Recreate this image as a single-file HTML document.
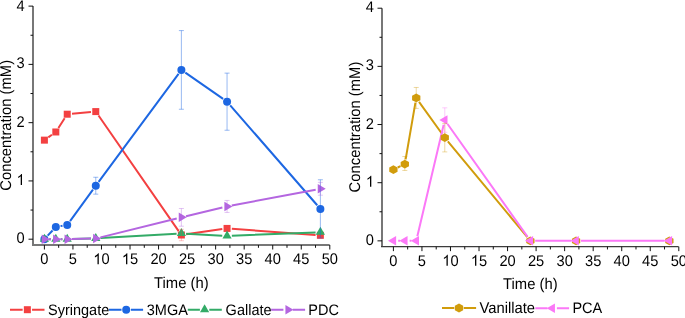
<!DOCTYPE html>
<html><head><meta charset="utf-8"><style>
html,body{margin:0;padding:0;background:#fff;width:685px;height:318px;overflow:hidden}
svg{display:block} text{text-rendering:geometricPrecision}
</style></head><body>
<svg width="685" height="318" viewBox="0 0 685 318" font-family='"Liberation Sans", sans-serif' fill="#000">
<rect width="685" height="318" fill="#fff"/>
<path d="M33 6.1V245H329.7" fill="none" stroke="#777777" stroke-width="2"/>
<path d="M28.5 239.2H33M30.5 210.06H33M28.5 180.93H33M30.5 151.79H33M28.5 122.66H33M30.5 93.52H33M28.5 64.39H33M30.5 35.25H33M28.5 6.12H33M44.4 245V249.5M58.67 245V247.8M72.94 245V249.5M87.21 245V247.8M101.48 245V249.5M115.75 245V247.8M130.02 245V249.5M144.29 245V247.8M158.56 245V249.5M172.83 245V247.8M187.1 245V249.5M201.37 245V247.8M215.64 245V249.5M229.91 245V247.8M244.18 245V249.5M258.45 245V247.8M272.72 245V249.5M286.99 245V247.8M301.26 245V249.5M315.53 245V247.8M329.8 245V249.5" stroke="#111" stroke-width="1" fill="none"/>
<path transform="translate(16.54 184.93) scale(0.007163 -0.007521)" d="M763 0H583V1147Q430 1003 223 917V1091Q390 1160 530 1290Q640 1390 676 1466H763Z" fill="#000"/>
<path transform="translate(93.32 264.3) scale(0.007163 -0.007521)" d="M763 0H583V1147Q430 1003 223 917V1091Q390 1160 530 1290Q640 1390 676 1466H763Z" fill="#000"/>
<path transform="translate(121.86 264.3) scale(0.007163 -0.007521)" d="M763 0H583V1147Q430 1003 223 917V1091Q390 1160 530 1290Q640 1390 676 1466H763Z" fill="#000"/>
<path d="M48.31 137.35L51.91 134.77M58.41 127.94L64.64 118.25M72.01 113.77L90.99 112.03M98.51 115.53L178.66 231.06M186.14 234.32L222.31 229.11M231.84 228.77L315.59 234.94" stroke="#f34041" stroke-width="2" fill="none"/>
<path d="M47.67 235.69L52.54 230.47M60.54 226.12L62.51 225.77M70.06 221.04L92.95 189.59M98.63 181.85L178.54 73.79M185.33 72.67L223.12 98.94M230.21 105.3L317.23 205.28" stroke="#1d67e2" stroke-width="2" fill="none"/>
<path d="M49.2 239.2L51.02 239.2M60.62 239.2L62.43 239.2M72.03 239.03L90.97 238.38M100.56 237.94L176.6 233.64M186.18 233.64L222.26 235.67M231.85 235.75L315.59 232.4" stroke="#33ab67" stroke-width="2" fill="none"/>
<path d="M49.2 239.2L51.02 239.2M60.62 239.2L62.43 239.2M72.03 239.08L90.97 238.62M100.43 237.35L176.73 218.5M186.06 216.23L222.39 207.57M231.77 205.56L315.67 189.69" stroke="#b466e0" stroke-width="2" fill="none"/>
<rect x="40.9" y="136.64" width="7" height="7" fill="#f34041"/>
<rect x="52.32" y="128.48" width="7" height="7" fill="#f34041"/>
<rect x="63.73" y="110.71" width="7" height="7" fill="#f34041"/>
<rect x="92.27" y="108.09" width="7" height="7" fill="#f34041"/>
<rect x="177.89" y="231.5" width="7" height="7" fill="#f34041"/>
<rect x="223.56" y="224.92" width="7" height="7" fill="#f34041"/>
<rect x="316.88" y="231.8" width="7" height="7" fill="#f34041"/>
<circle cx="44.4" cy="239.2" r="4" fill="#1d67e2"/>
<circle cx="55.82" cy="226.96" r="4" fill="#1d67e2"/>
<circle cx="67.23" cy="224.92" r="4" fill="#1d67e2"/>
<circle cx="95.77" cy="185.71" r="4" fill="#1d67e2"/>
<circle cx="181.39" cy="69.93" r="4" fill="#1d67e2"/>
<circle cx="227.06" cy="101.68" r="4" fill="#1d67e2"/>
<circle cx="320.38" cy="208.9" r="4" fill="#1d67e2"/>
<path d="M44.4 233.87L49 241.87L39.8 241.87Z" fill="#33ab67"/>
<path d="M55.82 233.87L60.42 241.87L51.22 241.87Z" fill="#33ab67"/>
<path d="M67.23 233.87L71.83 241.87L62.63 241.87Z" fill="#33ab67"/>
<path d="M95.77 232.88L100.37 240.88L91.17 240.88Z" fill="#33ab67"/>
<path d="M181.39 228.04L185.99 236.04L176.79 236.04Z" fill="#33ab67"/>
<path d="M227.06 230.6L231.66 238.6L222.46 238.6Z" fill="#33ab67"/>
<path d="M320.38 226.87L324.98 234.87L315.78 234.87Z" fill="#33ab67"/>
<path d="M49.73 239.2L41.73 234.45L41.73 243.95Z" fill="#b466e0"/>
<path d="M61.15 239.2L53.15 234.45L53.15 243.95Z" fill="#b466e0"/>
<path d="M72.57 239.2L64.57 234.45L64.57 243.95Z" fill="#b466e0"/>
<path d="M101.11 238.5L93.11 233.75L93.11 243.25Z" fill="#b466e0"/>
<path d="M186.73 217.35L178.73 212.6L178.73 222.1Z" fill="#b466e0"/>
<path d="M232.39 206.45L224.39 201.7L224.39 211.2Z" fill="#b466e0"/>
<path d="M325.72 188.8L317.72 184.05L317.72 193.55Z" fill="#b466e0"/>
<path d="M181.39 229.29V240.72M178.89 229.29H183.89M178.89 240.72H183.89" stroke="#f34041" stroke-opacity="0.3" stroke-width="1" fill="none"/>
<path d="M95.77 177.26V194.16M93.27 177.26H98.27M93.27 194.16H98.27" stroke="#1d67e2" stroke-opacity="0.45" stroke-width="1" fill="none"/>
<path d="M181.39 30.59V109.26M178.89 30.59H183.89M178.89 109.26H183.89" stroke="#1d67e2" stroke-opacity="0.45" stroke-width="1" fill="none"/>
<path d="M227.06 73.13V130.24M224.56 73.13H229.56M224.56 130.24H229.56" stroke="#1d67e2" stroke-opacity="0.45" stroke-width="1" fill="none"/>
<path d="M320.38 179.76V238.03M317.88 179.76H322.88M317.88 238.03H322.88" stroke="#1d67e2" stroke-opacity="0.45" stroke-width="1" fill="none"/>
<path d="M181.39 208.49V226.21M178.89 208.49H183.89M178.89 226.21H183.89" stroke="#b466e0" stroke-opacity="0.38" stroke-width="1" fill="none"/>
<path d="M227.06 200.45V212.45M224.56 200.45H229.56M224.56 212.45H229.56" stroke="#b466e0" stroke-opacity="0.38" stroke-width="1" fill="none"/>
<path d="M320.38 182.39V195.21M317.88 182.39H322.88M317.88 195.21H322.88" stroke="#b466e0" stroke-opacity="0.38" stroke-width="1" fill="none"/>
<path d="M382 8.2V246.65" fill="none" stroke="#777777" stroke-width="2"/>
<path d="M381 246.65H678.6" fill="none" stroke="#3c3c3c" stroke-width="1.3"/>
<path d="M377.5 240.85H382M379.5 211.77H382M377.5 182.69H382M379.5 153.61H382M377.5 124.53H382M379.5 95.45H382M377.5 66.37H382M379.5 37.29H382M377.5 8.21H382M393.4 246.65V251.15M407.67 246.65V249.45M421.94 246.65V251.15M436.21 246.65V249.45M450.48 246.65V251.15M464.75 246.65V249.45M479.02 246.65V251.15M493.29 246.65V249.45M507.56 246.65V251.15M521.83 246.65V249.45M536.1 246.65V251.15M550.37 246.65V249.45M564.64 246.65V251.15M578.91 246.65V249.45M593.18 246.65V251.15M607.45 246.65V249.45M621.72 246.65V251.15M635.99 246.65V249.45M650.26 246.65V251.15M664.53 246.65V249.45M678.8 246.65V251.15" stroke="#111" stroke-width="1" fill="none"/>
<path transform="translate(365.84 186.69) scale(0.007163 -0.007521)" d="M763 0H583V1147Q430 1003 223 917V1091Q390 1160 530 1290Q640 1390 676 1466H763Z" fill="#000"/>
<path transform="translate(442.32 265.85) scale(0.007163 -0.007521)" d="M763 0H583V1147Q430 1003 223 917V1091Q390 1160 530 1290Q640 1390 676 1466H763Z" fill="#000"/>
<path transform="translate(470.86 265.85) scale(0.007163 -0.007521)" d="M763 0H583V1147Q430 1003 223 917V1091Q390 1160 530 1290Q640 1390 676 1466H763Z" fill="#000"/>
<path d="M397.72 167.51L400.5 166.17M405.63 159.35L415.42 102.68M419.03 101.85L441.97 133.78M447.84 141.37L527.33 237.16" stroke="#d19c0c" stroke-width="2" fill="none"/>
<path d="M398.2 240.85L400.02 240.85M409.62 240.85L411.43 240.85M417.34 236.18L443.67 124.72M447.55 123.97L527.62 236.93M535.19 240.85L571.26 240.85M580.86 240.85L664.58 240.85" stroke="#fb78f7" stroke-width="2" fill="none"/>
<path d="M393.4 165.2L397.55 167.4L397.55 171.8L393.4 174L389.25 171.8L389.25 167.4Z" fill="#d19c0c"/>
<path d="M404.82 159.68L408.97 161.88L408.97 166.28L404.82 168.48L400.67 166.28L400.67 161.88Z" fill="#d19c0c"/>
<path d="M416.23 93.55L420.38 95.75L420.38 100.15L416.23 102.35L412.08 100.15L412.08 95.75Z" fill="#d19c0c"/>
<path d="M444.77 133.27L448.92 135.47L448.92 139.87L444.77 142.07L440.62 139.87L440.62 135.47Z" fill="#d19c0c"/>
<path d="M530.39 236.45L534.54 238.65L534.54 243.05L530.39 245.25L526.24 243.05L526.24 238.65Z" fill="#d19c0c"/>
<path d="M576.06 236.45L580.21 238.65L580.21 243.05L576.06 245.25L571.91 243.05L571.91 238.65Z" fill="#d19c0c"/>
<path d="M669.38 236.45L673.53 238.65L673.53 243.05L669.38 245.25L665.23 243.05L665.23 238.65Z" fill="#d19c0c"/>
<path d="M387.93 240.85L396.13 236.1L396.13 245.6Z" fill="#fb78f7"/>
<path d="M399.35 240.85L407.55 236.1L407.55 245.6Z" fill="#fb78f7"/>
<path d="M410.77 240.85L418.97 236.1L418.97 245.6Z" fill="#fb78f7"/>
<path d="M439.31 120.05L447.51 115.3L447.51 124.8Z" fill="#fb78f7"/>
<path d="M524.93 240.85L533.13 236.1L533.13 245.6Z" fill="#fb78f7"/>
<path d="M570.59 240.85L578.79 236.1L578.79 245.6Z" fill="#fb78f7"/>
<path d="M663.92 240.85L672.12 236.1L672.12 245.6Z" fill="#fb78f7"/>
<path d="M404.82 156.52V170.48M402.32 156.52H407.32M402.32 170.48H407.32" stroke="#d19c0c" stroke-opacity="0.38" stroke-width="1" fill="none"/>
<path d="M416.23 87.48V108.42M413.73 87.48H418.73M413.73 108.42H418.73" stroke="#d19c0c" stroke-opacity="0.38" stroke-width="1" fill="none"/>
<path d="M444.77 123.42V151.92M442.27 123.42H447.27M442.27 151.92H447.27" stroke="#d19c0c" stroke-opacity="0.38" stroke-width="1" fill="none"/>
<path d="M444.77 107.84V132.27M442.27 107.84H447.27M442.27 132.27H447.27" stroke="#fb78f7" stroke-opacity="0.4" stroke-width="1" fill="none"/>
<path d="M10 309.7H22.65M32.05 309.7H44.5" stroke="#f34041" stroke-width="2"/>
<rect x="23.85" y="306.2" width="7" height="7" fill="#f34041"/>
<path d="M108.9 309.7H121.5M130.9 309.7H143.1" stroke="#1d67e2" stroke-width="2"/>
<circle cx="126.2" cy="309.7" r="4" fill="#1d67e2"/>
<path d="M187.8 309.7H199.9M209.3 309.7H221.8" stroke="#33ab67" stroke-width="2"/>
<path d="M204.6 304.37L209.2 312.37L200 312.37Z" fill="#33ab67"/>
<path d="M271.1 309.7H283.4M292.8 309.7H305.1" stroke="#b466e0" stroke-width="2"/>
<path d="M293.43 309.7L285.43 304.95L285.43 314.45Z" fill="#b466e0"/>
<path d="M442 308H454.3M463.7 308H476.1" stroke="#d19c0c" stroke-width="2"/>
<path d="M459 303.6L463.15 305.8L463.15 310.2L459 312.4L454.85 310.2L454.85 305.8Z" fill="#d19c0c"/>
<path d="M535.3 308.2H547.5M556.9 308.2H569.1" stroke="#fb78f7" stroke-width="2"/>
<path d="M546.73 308.2L554.93 303.45L554.93 312.95Z" fill="#fb78f7"/>
<g style="filter:grayscale(1)">
<text transform="translate(16.54 243.2) scale(1 1.05)" font-size="14.67">0</text>
<text transform="translate(16.54 126.66) scale(1 1.05)" font-size="14.67">2</text>
<text transform="translate(16.54 68.39) scale(1 1.05)" font-size="14.67">3</text>
<text transform="translate(16.54 10.62) scale(1 1.05)" font-size="14.67">4</text>
<text transform="translate(40.32 264.3) scale(1 1.05)" font-size="14.67">0</text>
<text transform="translate(68.86 264.3) scale(1 1.05)" font-size="14.67">5</text>
<text transform="translate(101.48 264.3) scale(1 1.05)" font-size="14.67">0</text>
<text transform="translate(130.02 264.3) scale(1 1.05)" font-size="14.67">5</text>
<text transform="translate(150.4 264.3) scale(1 1.05)" font-size="14.67">2</text>
<text transform="translate(158.56 264.3) scale(1 1.05)" font-size="14.67">0</text>
<text transform="translate(178.94 264.3) scale(1 1.05)" font-size="14.67">2</text>
<text transform="translate(187.1 264.3) scale(1 1.05)" font-size="14.67">5</text>
<text transform="translate(207.48 264.3) scale(1 1.05)" font-size="14.67">3</text>
<text transform="translate(215.64 264.3) scale(1 1.05)" font-size="14.67">0</text>
<text transform="translate(236.02 264.3) scale(1 1.05)" font-size="14.67">3</text>
<text transform="translate(244.18 264.3) scale(1 1.05)" font-size="14.67">5</text>
<text transform="translate(264.56 264.3) scale(1 1.05)" font-size="14.67">4</text>
<text transform="translate(272.72 264.3) scale(1 1.05)" font-size="14.67">0</text>
<text transform="translate(293.1 264.3) scale(1 1.05)" font-size="14.67">4</text>
<text transform="translate(301.26 264.3) scale(1 1.05)" font-size="14.67">5</text>
<text transform="translate(321.64 264.3) scale(1 1.05)" font-size="14.67">5</text>
<text transform="translate(329.8 264.3) scale(1 1.05)" font-size="14.67">0</text>
<text transform="translate(181.35 287.8) scale(1 1.05)" text-anchor="middle" font-size="14.8">Time (h)</text>
<text transform="translate(10.9 125.3) rotate(-90) scale(1 1.05)" text-anchor="middle" font-size="14.8">Concentration (mM)</text>
<text transform="translate(365.84 244.85) scale(1 1.05)" font-size="14.67">0</text>
<text transform="translate(365.84 128.53) scale(1 1.05)" font-size="14.67">2</text>
<text transform="translate(365.84 70.37) scale(1 1.05)" font-size="14.67">3</text>
<text transform="translate(365.84 12.21) scale(1 1.05)" font-size="14.67">4</text>
<text transform="translate(389.32 265.85) scale(1 1.05)" font-size="14.67">0</text>
<text transform="translate(417.86 265.85) scale(1 1.05)" font-size="14.67">5</text>
<text transform="translate(450.48 265.85) scale(1 1.05)" font-size="14.67">0</text>
<text transform="translate(479.02 265.85) scale(1 1.05)" font-size="14.67">5</text>
<text transform="translate(499.4 265.85) scale(1 1.05)" font-size="14.67">2</text>
<text transform="translate(507.56 265.85) scale(1 1.05)" font-size="14.67">0</text>
<text transform="translate(527.94 265.85) scale(1 1.05)" font-size="14.67">2</text>
<text transform="translate(536.1 265.85) scale(1 1.05)" font-size="14.67">5</text>
<text transform="translate(556.48 265.85) scale(1 1.05)" font-size="14.67">3</text>
<text transform="translate(564.64 265.85) scale(1 1.05)" font-size="14.67">0</text>
<text transform="translate(585.02 265.85) scale(1 1.05)" font-size="14.67">3</text>
<text transform="translate(593.18 265.85) scale(1 1.05)" font-size="14.67">5</text>
<text transform="translate(613.56 265.85) scale(1 1.05)" font-size="14.67">4</text>
<text transform="translate(621.72 265.85) scale(1 1.05)" font-size="14.67">0</text>
<text transform="translate(642.1 265.85) scale(1 1.05)" font-size="14.67">4</text>
<text transform="translate(650.26 265.85) scale(1 1.05)" font-size="14.67">5</text>
<text transform="translate(670.64 265.85) scale(1 1.05)" font-size="14.67">5</text>
<text transform="translate(678.8 265.85) scale(1 1.05)" font-size="14.67">0</text>
<text transform="translate(530.3 289.2) scale(1 1.05)" text-anchor="middle" font-size="14.8">Time (h)</text>
<text transform="translate(360.3 127) rotate(-90) scale(1 1.05)" text-anchor="middle" font-size="14.8">Concentration (mM)</text>
<text transform="translate(48 314.6) scale(1 1.05)" font-size="14.5">Syringate</text>
<text transform="translate(146.8 314.6) scale(1 1.05)" font-size="14.5">3MGA</text>
<text transform="translate(225.6 314.6) scale(1 1.05)" font-size="14.5">Gallate</text>
<text transform="translate(308.3 314.6) scale(1 1.05)" font-size="14.5">PDC</text>
<text transform="translate(479.4 312.6) scale(1 1.05)" font-size="14.8">Vanillate</text>
<text transform="translate(572.4 312.6) scale(1 1.05)" font-size="14.5">PCA</text>
</g>
</svg>
</body></html>
